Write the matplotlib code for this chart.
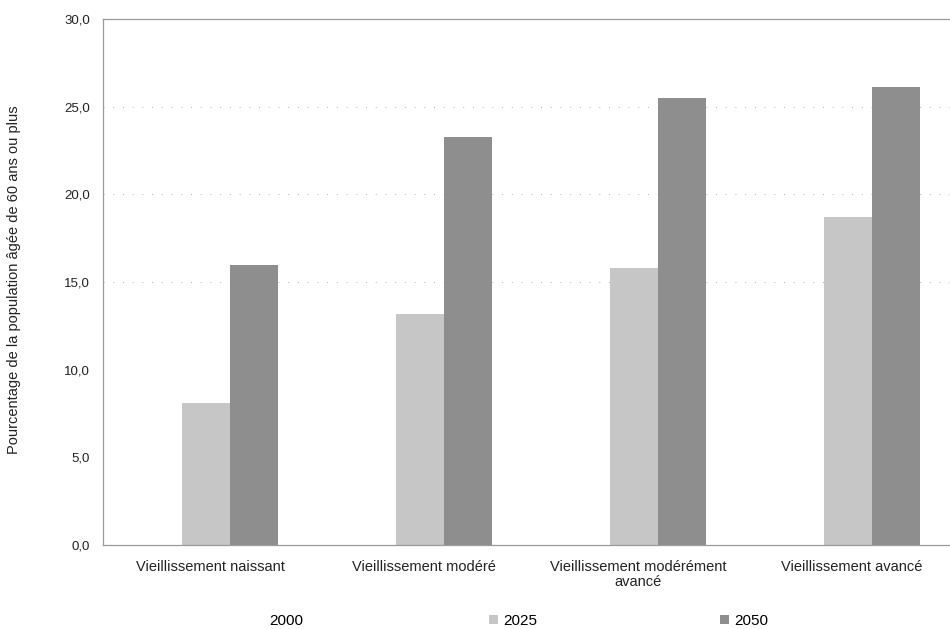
import matplotlib
matplotlib.use("Agg")
import matplotlib.pyplot as plt
import numpy as np
from matplotlib.patches import Patch

plt.rcParams["font.family"] = ["Liberation Sans", "DejaVu Sans"]

categories = [
    "Vieillissement naissant",
    "Vieillissement modéré",
    "Vieillissement modérément\navancé",
    "Vieillissement avancé",
]
series_names = ["2000", "2025", "2050"]
values_2000 = [5.5, 8.5, 10.5, 13.0]
values_2025 = [8.1, 13.2, 15.8, 18.7]
values_2050 = [16.0, 23.3, 25.5, 26.1]
colors = ["#ffffff", "#c6c6c6", "#8e8e8e"]

fig = plt.figure(figsize=(9.5, 6.29), dpi=100)
ax = fig.add_axes([0.1084, 0.1335, 0.901, 0.8362])

x = np.arange(len(categories))
w = 0.224
for k, vals in enumerate([values_2000, values_2025, values_2050]):
    ax.bar(x + (k - 1) * w - 0.02, vals, width=w, color=colors[k],
           edgecolor="none", zorder=2)

ax.set_xlim(-0.5, len(categories) - 0.5)
ax.set_ylim(0, 30)
yt = np.arange(0, 30.1, 5)
ax.set_yticks(yt)
ax.set_yticklabels([f"{v:.1f}".replace(".", ",") for v in yt])
ax.set_xticks(x)
ax.set_xticklabels(categories, fontsize=10.5, color="#222222", linespacing=1.1)
ax.tick_params(axis="y", length=0, pad=9.5, labelsize=9.5, labelcolor="#222222")
ax.tick_params(axis="x", length=0, pad=11)

for v in [15, 20, 25]:
    ax.axhline(v, color="#b0b0b0", lw=0.7, ls=(0, (1, 9)), zorder=1)

for side in ["left", "bottom", "top"]:
    ax.spines[side].set_color("#9a9a9a")
    ax.spines[side].set_linewidth(0.9)
ax.spines["top"].set_linestyle((0, (4, 1)))
ax.spines["right"].set_visible(False)

fig.text(0.015, 0.555, "Pourcentage de la population âgée de 60 ans ou plus",
         rotation=90, ha="center", va="center", fontsize=10.5, color="#222222")

# one legend entry per block, spaced like the original key
anchors = [0.269, 0.515, 0.758]
for name, c, ax_x in zip(series_names, colors, anchors):
    fig.legend([Patch(facecolor=c, edgecolor="none")], [name],
               loc="center left", bbox_to_anchor=(ax_x, 0.0127),
               frameon=False, fontsize=11, borderpad=0, borderaxespad=0,
               handlelength=0.6, handleheight=0.6, handletextpad=0.3)

fig.savefig("out.png", dpi=100, facecolor="white")
